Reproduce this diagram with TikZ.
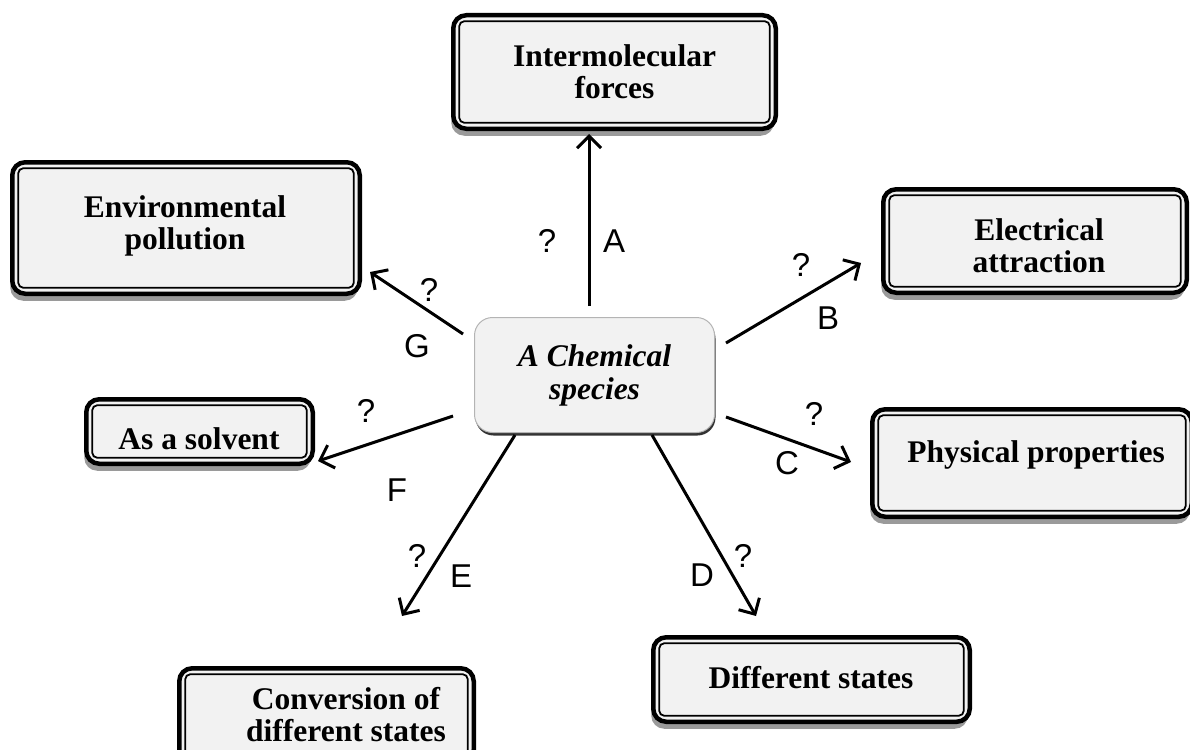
\documentclass[tikz,border=0pt]{standalone}
\usepackage{fontspec}
\setmainfont{Liberation Serif}
\newfontfamily\tagfont{Liberation Sans}
\usetikzlibrary{arrows.meta,shadows}
\definecolor{boxfill}{HTML}{F2F2F2}
\definecolor{shadowgray}{HTML}{9A9A9A}
\definecolor{hubline}{HTML}{B4B4B4}
\begin{document}
\begin{tikzpicture}[x=1pt,y=-1pt,
  conceptbox/.style={draw=black, line width=4.5pt, rounded corners=13pt, fill=boxfill,
    inner sep=0pt, outer sep=0pt,
    drop shadow={shadow xshift=-2pt, shadow yshift=-7pt, fill=shadowgray, opacity=1}},
  innerline/.style={draw=black, line width=1.8pt, rounded corners=5pt},
  boxtext/.style={font=\fontsize{31.5}{32}\selectfont\bfseries, align=center, inner sep=0pt},
  hub/.style={draw=hubline, line width=1pt, rounded corners=18pt, fill=boxfill,
    inner sep=0pt, outer sep=0pt, align=center,
    font=\fontsize{31.5}{33}\selectfont\bfseries\itshape,
    drop shadow={shadow xshift=1pt, shadow yshift=-3pt, fill=black!80, opacity=1}},
  link/.style={line width=3pt, -{Straight Barb[length=12pt,width=24pt,line width=3pt]}},
  tag/.style={font=\fontsize{33}{33}\selectfont\tagfont, inner sep=0pt}
]
\useasboundingbox (0,0) rectangle (1190,749);
\clip (0,0) rectangle (1190,749);

% concept boxes (outer rounded frame)
\node[conceptbox, minimum width=322.5pt, minimum height=113.5pt] (inter) at (614.5,72) {};
\node[conceptbox, minimum width=347.5pt, minimum height=131.5pt] (env)   at (186,228) {};
\node[conceptbox, minimum width=303.5pt, minimum height=103.5pt] (elec)  at (1035,241) {};
\node[conceptbox, minimum width=319.5pt, minimum height=107.5pt] (phys)  at (1032,463) {};
\node[conceptbox, minimum width=226.5pt, minimum height=64.5pt]  (solv)  at (199.5,431.5) {};
\node[conceptbox, minimum width=294.5pt, minimum height=94.5pt]  (conv)  at (326.5,715.5) {};
\node[conceptbox, minimum width=316.5pt, minimum height=84.5pt]  (diff)  at (811.5,679.5) {};

% thin inner frame of each box
\foreach \n in {inter,env,elec,phys,solv,conv,diff}
  \draw[innerline] ([shift={(6,6)}]\n.north west) rectangle ([shift={(-6,-6)}]\n.south east);

% box captions
\node[boxtext] (inter-t) at (614.5,72) {Intermolecular\\forces};
\node[boxtext] (env-t)   at (185,226) {Environmental\\pollution};
\node[boxtext] (elec-t)  at (1039,246) {Electrical\\attraction};
\node[boxtext] (phys-t)  at (1036,455) {Physical properties};
\node[boxtext] (solv-t)  at (199,439) {As a solvent};
\node[boxtext] (conv-t)  at (346,715) {Conversion of\\different states};
\node[boxtext] (diff-t)  at (811,678) {Different states};

% central concept
\node[hub, minimum width=240pt, minimum height=115pt] (hub) at (594.5,375) {A Chemical\\species};

% connector end points
\coordinate (a0) at (589,306); \coordinate (a1) at (589,134);
\coordinate (b0) at (726,343); \coordinate (b1) at (861,263);
\coordinate (c0) at (726,417); \coordinate (c1) at (851,462);
\coordinate (d0) at (652,435); \coordinate (d1) at (756,616);
\coordinate (e0) at (515,435); \coordinate (e1) at (402,616);
\coordinate (f0) at (453,416); \coordinate (f1) at (318,461);
\coordinate (g0) at (463,334); \coordinate (g1) at (370,272);

\draw[link] (a0) -- (a1);
\draw[link] (b0) -- (b1);
\draw[link] (c0) -- (c1);
\draw[link] (d0) -- (d1);
\draw[link] (e0) -- (e1);
\draw[link] (f0) -- (f1);
\draw[link] (g0) -- (g1);

% connector labels
\node[tag] (qa) at (547,241) {?};  \node[tag] (la) at (614,241) {A};
\node[tag] (qb) at (801,265) {?};  \node[tag] (lb) at (828,318) {B};
\node[tag] (qc) at (814,414) {?};  \node[tag] (lc) at (787,463) {C};
\node[tag] (qd) at (743,556) {?};  \node[tag] (ld) at (702,575) {D};
\node[tag] (qe) at (417,556) {?};  \node[tag] (le) at (461,576) {E};
\node[tag] (qf) at (366,411) {?};  \node[tag] (lf) at (397,490) {F};
\node[tag] (qg) at (429,290) {?};  \node[tag] (lg) at (417,346) {G};
\end{tikzpicture}
\end{document}
